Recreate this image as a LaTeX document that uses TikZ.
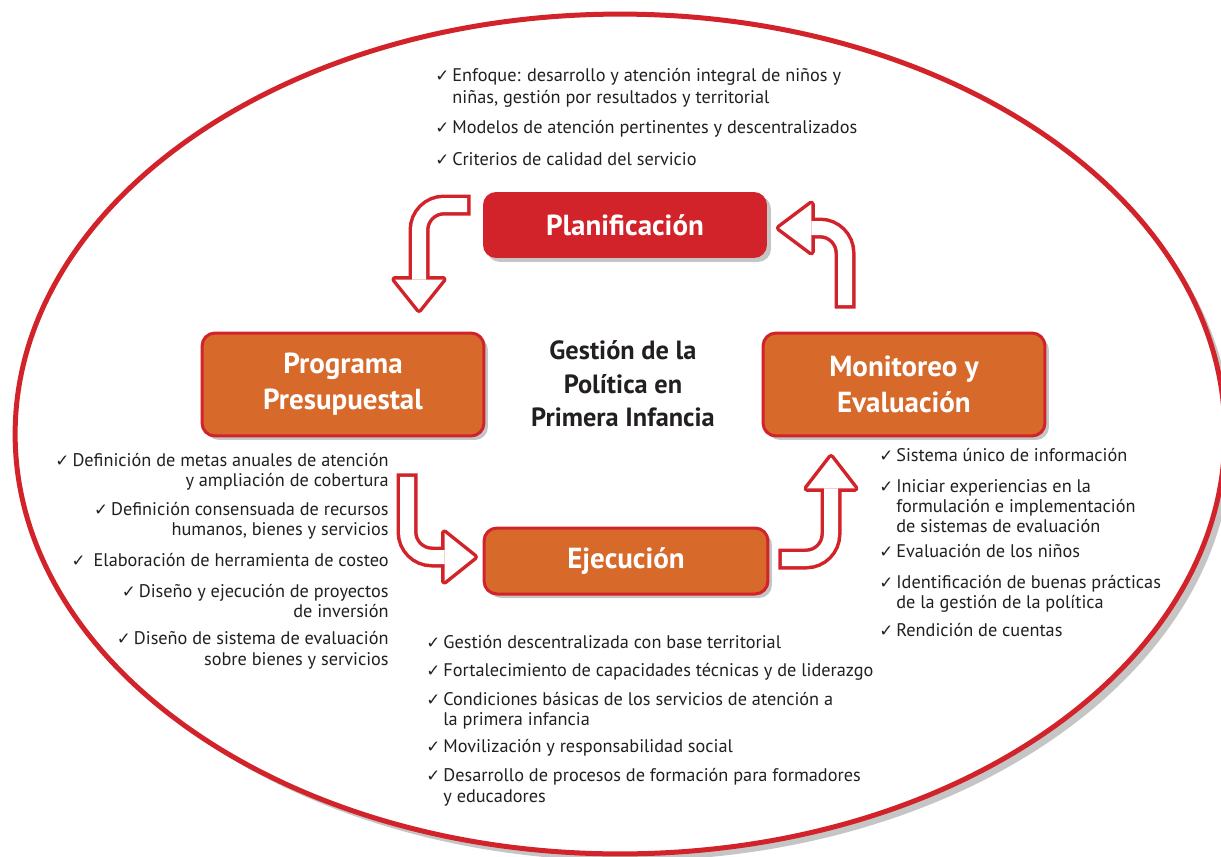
\documentclass[tikz,border=0pt]{standalone}
\usepackage{fontspec}
\setmainfont{PT Sans}
\newfontfamily\symfont{DejaVu Sans}
\usetikzlibrary{calc, positioning, shadows}

\definecolor{planred}{HTML}{D2232A}
\definecolor{boxorange}{HTML}{D7692B}
\definecolor{textdark}{HTML}{231F20}

\newcommand{\ck}{{\symfont\fontsize{9.5}{9.5}\selectfont ✓}\,}
\newcommand{\ind}{\hphantom{\ck}}

% hollow bent arrow: start, turn, head base, tip
\newcommand{\hollowarrow}[4]{%
    \draw [arrow_outer] (#1) #2 (#3);
    \filldraw [head_outer] ($(#3)!0.48cm!90:(#4)$) -- (#4) -- ($(#3)!0.48cm!-90:(#4)$) -- cycle;
    \draw [arrow_inner] (#1) #2 (#3);
    \fill [white] ($(#3)!0.48cm!90:(#4)$) -- (#4) -- ($(#3)!0.48cm!-90:(#4)$) -- cycle;
}

\tikzset{
    red_box/.style={rectangle, rounded corners=0.26cm, fill=planred, minimum width=5.68cm, minimum height=1.32cm, text=white, text centered, align=center, font=\fontsize{16.5}{20.4}\selectfont\bfseries, drop shadow={shadow xshift=0.08cm, shadow yshift=-0.08cm, opacity=0.45}},
    orange_box/.style={red_box, fill=boxorange, draw=planred, line width=0.06cm},
    center_text/.style={text=textdark, text centered, align=center, font=\fontsize{15}{19}\selectfont\bfseries},
    item_list/.style={text=textdark, inner sep=0pt, font=\fontsize{10.4}{11.4}\selectfont},
    ellipse_line/.style={draw=planred, line width=0.1cm, fill=white},
    ellipse_shade/.style={fill=black!45, opacity=0.5},
    arrow_outer/.style={draw=planred, line width=0.42cm, rounded corners=0.5cm},
    arrow_inner/.style={draw=white, line width=0.28cm, rounded corners=0.5cm, shorten <=0.07cm},
    head_outer/.style={draw=planred, fill=planred, line width=0.14cm, line join=round},
}

\begin{document}
\begin{tikzpicture}[x=0.02cm, y=-0.02cm]
    \useasboundingbox (0,0) rectangle (1221,856);
    %%%%%%%%%%%%%%%
    % Outer frame %
    %%%%%%%%%%%%%%%
    \fill [ellipse_shade] (627,441) ellipse [x radius=12.1cm, y radius=8.4cm];
    \draw [ellipse_line] (620,434) ellipse [x radius=12.1cm, y radius=8.4cm];

    %%%%%%%%%%%%%%%
    % Cycle boxes %
    %%%%%%%%%%%%%%%
    \node (plan) [red_box] at (625,225)
        {Planificación};
    \node (prog) [orange_box, minimum width=5.64cm, minimum height=2.06cm] at (343,384.5)
        {Programa\\Presupuestal};
    \node (monit) [orange_box, minimum width=5.64cm, minimum height=2.06cm] at (904,384.5)
        {Monitoreo y\\Evaluación};
    \node (ejec) [orange_box, minimum width=5.68cm] at (626,561)
        {Ejecución};
    \node (core) [center_text] at (623,384)
        {Gestión de la\\Política en\\Primera Infancia};

    %%%%%%%%%%%%%%%%%
    % Hollow arrows %
    %%%%%%%%%%%%%%%%%
    \coordinate (a_start) at ($(plan.west)+(-12,-20)$);
    \coordinate (a_base) at ($(prog.north)+(76,-52)$);
    \coordinate (a_tip) at ($(prog.north)+(76,-22)$);
    \hollowarrow{a_start}{-|}{a_base}{a_tip}

    \coordinate (c_start) at ($(prog.south)+(64,36)$);
    \coordinate (c_base) at ($(ejec.west)+(-38,-4)$);
    \coordinate (c_tip) at ($(ejec.west)+(-8,-4)$);
    \hollowarrow{c_start}{|-}{c_base}{c_tip}

    \coordinate (b_start) at ($(ejec.east)+(9,-2)$);
    \coordinate (b_base) at ($(monit.south)+(-73,51)$);
    \coordinate (b_tip) at ($(monit.south)+(-73,20)$);
    \hollowarrow{b_start}{-|}{b_base}{b_tip}

    \coordinate (d_start) at ($(monit.north)+(-59,-23)$);
    \coordinate (d_base) at ($(plan.east)+(44,3)$);
    \coordinate (d_tip) at ($(plan.east)+(12,3)$);
    \hollowarrow{d_start}{|-}{d_base}{d_tip}

    %%%%%%%%%%%%%%
    % Item lists %
    %%%%%%%%%%%%%%
    % base anchor sits on the last line
    \node (plan_list) [item_list, font=\fontsize{10.4}{12.5}\selectfont, align=left, anchor=base west] at (435,165)
        {\ck Enfoque: desarrollo y atención integral de niños y\\
         \ind niñas, gestión por resultados y territorial\\[0.16cm]
         \ck Modelos de atención pertinentes y descentralizados\\[0.2cm]
         \ck Criterios de calidad del servicio};
    \node (prog_list) [item_list, align=right, anchor=base east] at (389,665)
        {\ck Definición de metas anuales de atención\\
         y ampliación de cobertura\\[0.17cm]
         \ck Definición consensuada de recursos\\
         humanos, bienes y servicios\\[0.22cm]
         \ck\ Elaboración de herramienta de costeo\\[0.22cm]
         \ck Diseño y ejecución de proyectos\\
         de inversión\\[0.15cm]
         \ck Diseño de sistema de evaluación\\
         sobre bienes y servicios};
    \node (monit_list) [item_list, align=left, anchor=base west] at (879,636)
        {\ck Sistema único de información\\[0.22cm]
         \ck Iniciar experiencias en la\\
         \ind formulación e implementación\\
         \ind de sistemas de evaluación\\[0.1cm]
         \ck Evaluación de los niños\\[0.22cm]
         \ck Identificación de buenas prácticas\\
         \ind de la gestión de la política\\[0.14cm]
         \ck Rendición de cuentas};
    \node (ejec_list) [item_list, align=left, anchor=base west] at (426,802)
        {\ck Gestión descentralizada con base territorial\\[0.16cm]
         \ck Fortalecimiento de capacidades técnicas y de liderazgo\\[0.18cm]
         \ck Condiciones básicas de los servicios de atención a\\
         \ind la primera infancia\\[0.14cm]
         \ck Movilización y responsabilidad social\\[0.18cm]
         \ck Desarrollo de procesos de formación para formadores\\
         \ind y educadores};
\end{tikzpicture}
\end{document}
